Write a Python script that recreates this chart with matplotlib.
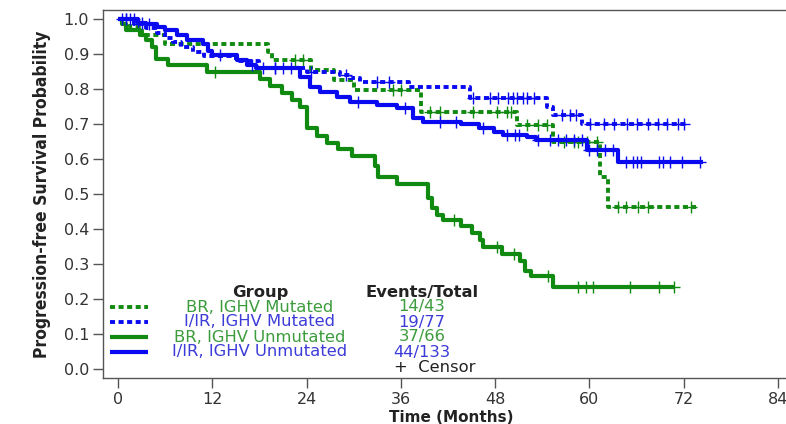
import numpy as np
import matplotlib
matplotlib.use("Agg")
import matplotlib.pyplot as plt

plt.rcParams["font.family"] = ["DejaVu Sans"]

# ---------------- data ----------------
groups = ["BR, IGHV Mutated", "I/IR, IGHV Mutated", "BR, IGHV Unmutated", "I/IR, IGHV Unmutated"]
events_total = ["14/43", "19/77", "37/66", "44/133"]

# BR, IGHV Mutated (green dotted)
brm_t = [0, 1.5, 3.0, 6.0, 19.1, 19.6, 24.5, 27.5, 30.0, 38.5, 50.8, 55.4, 61.3, 62.3]
brm_s = [1.0, 0.977, 0.953, 0.930, 0.906, 0.883, 0.855, 0.826, 0.797, 0.734, 0.697, 0.649, 0.55, 0.463]
brm_end = 73.5
brm_c = [22.5, 23.5, 35.0, 36.0, 39.7, 41.0, 45.2, 48.2, 49.5, 50.0, 52.0, 53.4, 54.6,
         56.7, 58.0, 58.6, 59.7, 61.0, 63.6, 64.6, 66.2, 67.5, 72.9]

# I/IR, IGHV Mutated (blue dashed)
irm_t = [0, 2.0, 3.5, 5.0, 6.0, 7.0, 8.0, 9.5, 11.0, 15.0, 18.0, 24.0, 28.3, 29.5, 30.8, 37.0, 44.8, 54.6, 55.4, 59.0]
irm_s = [1.0, 0.987, 0.974, 0.960, 0.947, 0.935, 0.920, 0.907, 0.893, 0.880, 0.860, 0.849, 0.840, 0.831, 0.820, 0.806, 0.774, 0.750, 0.726, 0.700]
irm_end = 72.5
irm_c = [1.0, 2.5, 20.0, 24.5, 29.0, 33.0, 34.5, 45.2, 47.4, 48.3, 49.6, 50.3, 50.8, 51.6, 52.1, 52.9,
         56.5, 57.5, 58.3, 60.1, 61.8, 63.1, 64.8, 66.1, 67.4, 68.7, 69.9, 71.3, 72.0]

# BR, IGHV Unmutated (green solid)
bru_t = [0, 0.5, 1.0, 2.8, 3.5, 4.3, 4.8, 6.4, 11.3, 18.1, 19.4, 20.9, 22.2, 23.2, 24.0, 25.3, 26.6,
         28.0, 29.8, 32.7, 33.1, 35.5, 39.4, 40.0, 40.6, 41.4, 43.6, 45.1, 46.1, 46.5, 48.9, 51.2,
         51.8, 52.6, 55.4]
bru_s = [1.0, 0.985, 0.970, 0.955, 0.940, 0.920, 0.885, 0.870, 0.850, 0.830, 0.810, 0.790, 0.770,
         0.750, 0.690, 0.665, 0.645, 0.630, 0.610, 0.580, 0.550, 0.530, 0.490, 0.460, 0.440, 0.425,
         0.410, 0.390, 0.370, 0.350, 0.330, 0.310, 0.280, 0.265, 0.235]
bru_end = 70.7
bru_c = [12.4, 42.7, 48.2, 50.4, 54.7, 58.5, 59.5, 60.5, 65.2, 68.8, 70.7]

# I/IR, IGHV Unmutated (blue solid)
iru_t = [0, 2.5, 3.5, 5.0, 6.0, 7.5, 8.8, 10.8, 11.4, 12.0, 15.1, 16.4, 17.6, 23.2, 24.4, 25.7,
         27.9, 29.5, 33.0, 35.5, 37.6, 38.8, 43.6, 46.0, 47.8, 49.0, 52.0, 53.2, 59.7, 63.6]
iru_s = [1.0, 0.990, 0.985, 0.977, 0.970, 0.955, 0.940, 0.930, 0.910, 0.897, 0.883, 0.869, 0.860,
         0.834, 0.806, 0.792, 0.777, 0.763, 0.754, 0.746, 0.717, 0.706, 0.700, 0.690, 0.677, 0.669,
         0.663, 0.654, 0.626, 0.591]
iru_end = 74.4
iru_c = [0.5, 1.0, 1.5, 2.0, 3.0, 4.0, 13.0, 17.0, 18.5, 20.0, 21.0, 22.0, 30.5, 36.5, 41.0, 43.0,
         46.5, 49.5, 50.5, 51.0, 53.5, 55.0, 56.0, 57.0, 58.0, 59.0, 60.0, 61.0, 62.0, 63.0,
         64.6, 65.5, 66.1, 66.5, 68.8, 69.4, 70.3, 71.8, 74.1]

x_ticks = [0, 12, 24, 36, 48, 60, 72, 84]
y_ticks = [0.0, 0.1, 0.2, 0.3, 0.4, 0.5, 0.6, 0.7, 0.8, 0.9, 1.0]

# ---------------- style ----------------
GREEN = "#108a10"
BLUE = "#0a0af0"
GREEN_TXT = "#3c9c3c"
BLUE_TXT = "#3c3cd8"
FS = 11.8

fig = plt.figure(figsize=(7.86, 4.24), dpi=100)
W, H = 786, 424
ax = fig.add_axes([103 / W, (H - 378) / H, (800 - 103) / W, (378 - 10) / H])

px_per_month = (778 - 118) / 84.0
ax.set_xlim(-(118 - 103) / px_per_month, (800 - 118) / px_per_month)
ax.set_ylim(-9 / 350, 1 + 9 / 350)


def draw(t, s, end, cens, color, ls, lw):
    tt = list(t) + [end]
    ss = list(s) + [s[-1]]
    ax.step(tt, ss, where="post", color=color, linestyle=ls, linewidth=lw,
            solid_capstyle="butt", dash_capstyle="butt")
    t_arr = np.asarray(t)
    s_arr = np.asarray(s)
    idx = np.searchsorted(t_arr, np.asarray(cens), side="right") - 1
    ax.plot(cens, s_arr[idx], linestyle="none", marker="+", color=color,
            markersize=8, markeredgewidth=1.0)


dot = (0, (1.3, 0.9))
draw(brm_t, brm_s, brm_end, brm_c, GREEN, dot, 2.8)
draw(irm_t, irm_s, irm_end, irm_c, BLUE, dot, 2.8)
draw(bru_t, bru_s, bru_end, bru_c, GREEN, "-", 3.0)
draw(iru_t, iru_s, iru_end, iru_c, BLUE, "-", 3.0)

# axes styling
for sp in ["top", "left", "bottom", "right"]:
    ax.spines[sp].set_color("#555555")
    ax.spines[sp].set_linewidth(1.0)
ax.set_xticks(x_ticks)
ax.set_xticklabels([str(v) for v in x_ticks])
ax.set_yticks(y_ticks)
ax.set_yticklabels([f"{v:.1f}" for v in y_ticks])
ax.tick_params(axis="both", direction="out", length=7, width=1, colors="#555555",
               labelcolor="#333333", labelsize=11.5)
ax.tick_params(axis="y", pad=3)
ax.tick_params(axis="x", pad=3)

ax.set_xlabel("Time (Months)", fontsize=11, fontweight="bold", color="#222222", labelpad=2)
ax.set_ylabel("Progression-free Survival Probability", fontsize=12.5, fontweight="bold",
              color="#222222", labelpad=9, fontstretch="condensed",
              family=["DejaVu Sans"])

# ---------------- legend table ----------------
def px(xp, yp):
    return ((xp - 118) / px_per_month, (369 - yp) / 350.0)

hx, hy = px(260, 293)
ax.text(hx, hy, "Group", ha="center", va="center", fontsize=FS, fontweight="bold", color="#222222")
ex, ey = px(422, 293)
ax.text(ex, ey, "Events/Total", ha="center", va="center", fontsize=FS, fontweight="bold", color="#222222")

row_y = [307, 322, 337, 352]
styles = [(GREEN, dot, 2.8, GREEN_TXT), (BLUE, dot, 2.8, BLUE_TXT),
          (GREEN, "-", 3.0, GREEN_TXT), (BLUE, "-", 3.0, BLUE_TXT)]
for i, (g, et) in enumerate(zip(groups, events_total)):
    col, ls, lw, tcol = styles[i]
    x0, y0 = px(110, row_y[i])
    x1, _ = px(148, row_y[i])
    ax.plot([x0, x1], [y0, y0], color=col, linestyle=ls, linewidth=lw,
            solid_capstyle="butt", dash_capstyle="butt")
    gx, _ = px(260, row_y[i])
    ax.text(gx, y0, g, ha="center", va="center", fontsize=FS, color=tcol)
    vx, _ = px(422, row_y[i])
    ax.text(vx, y0, et, ha="center", va="center", fontsize=FS, color=tcol)

cx, cy = px(435, 367)
ax.text(cx, cy, "+  Censor", ha="center", va="center", fontsize=FS, color="#222222")

fig.savefig("out.png", dpi=100)
